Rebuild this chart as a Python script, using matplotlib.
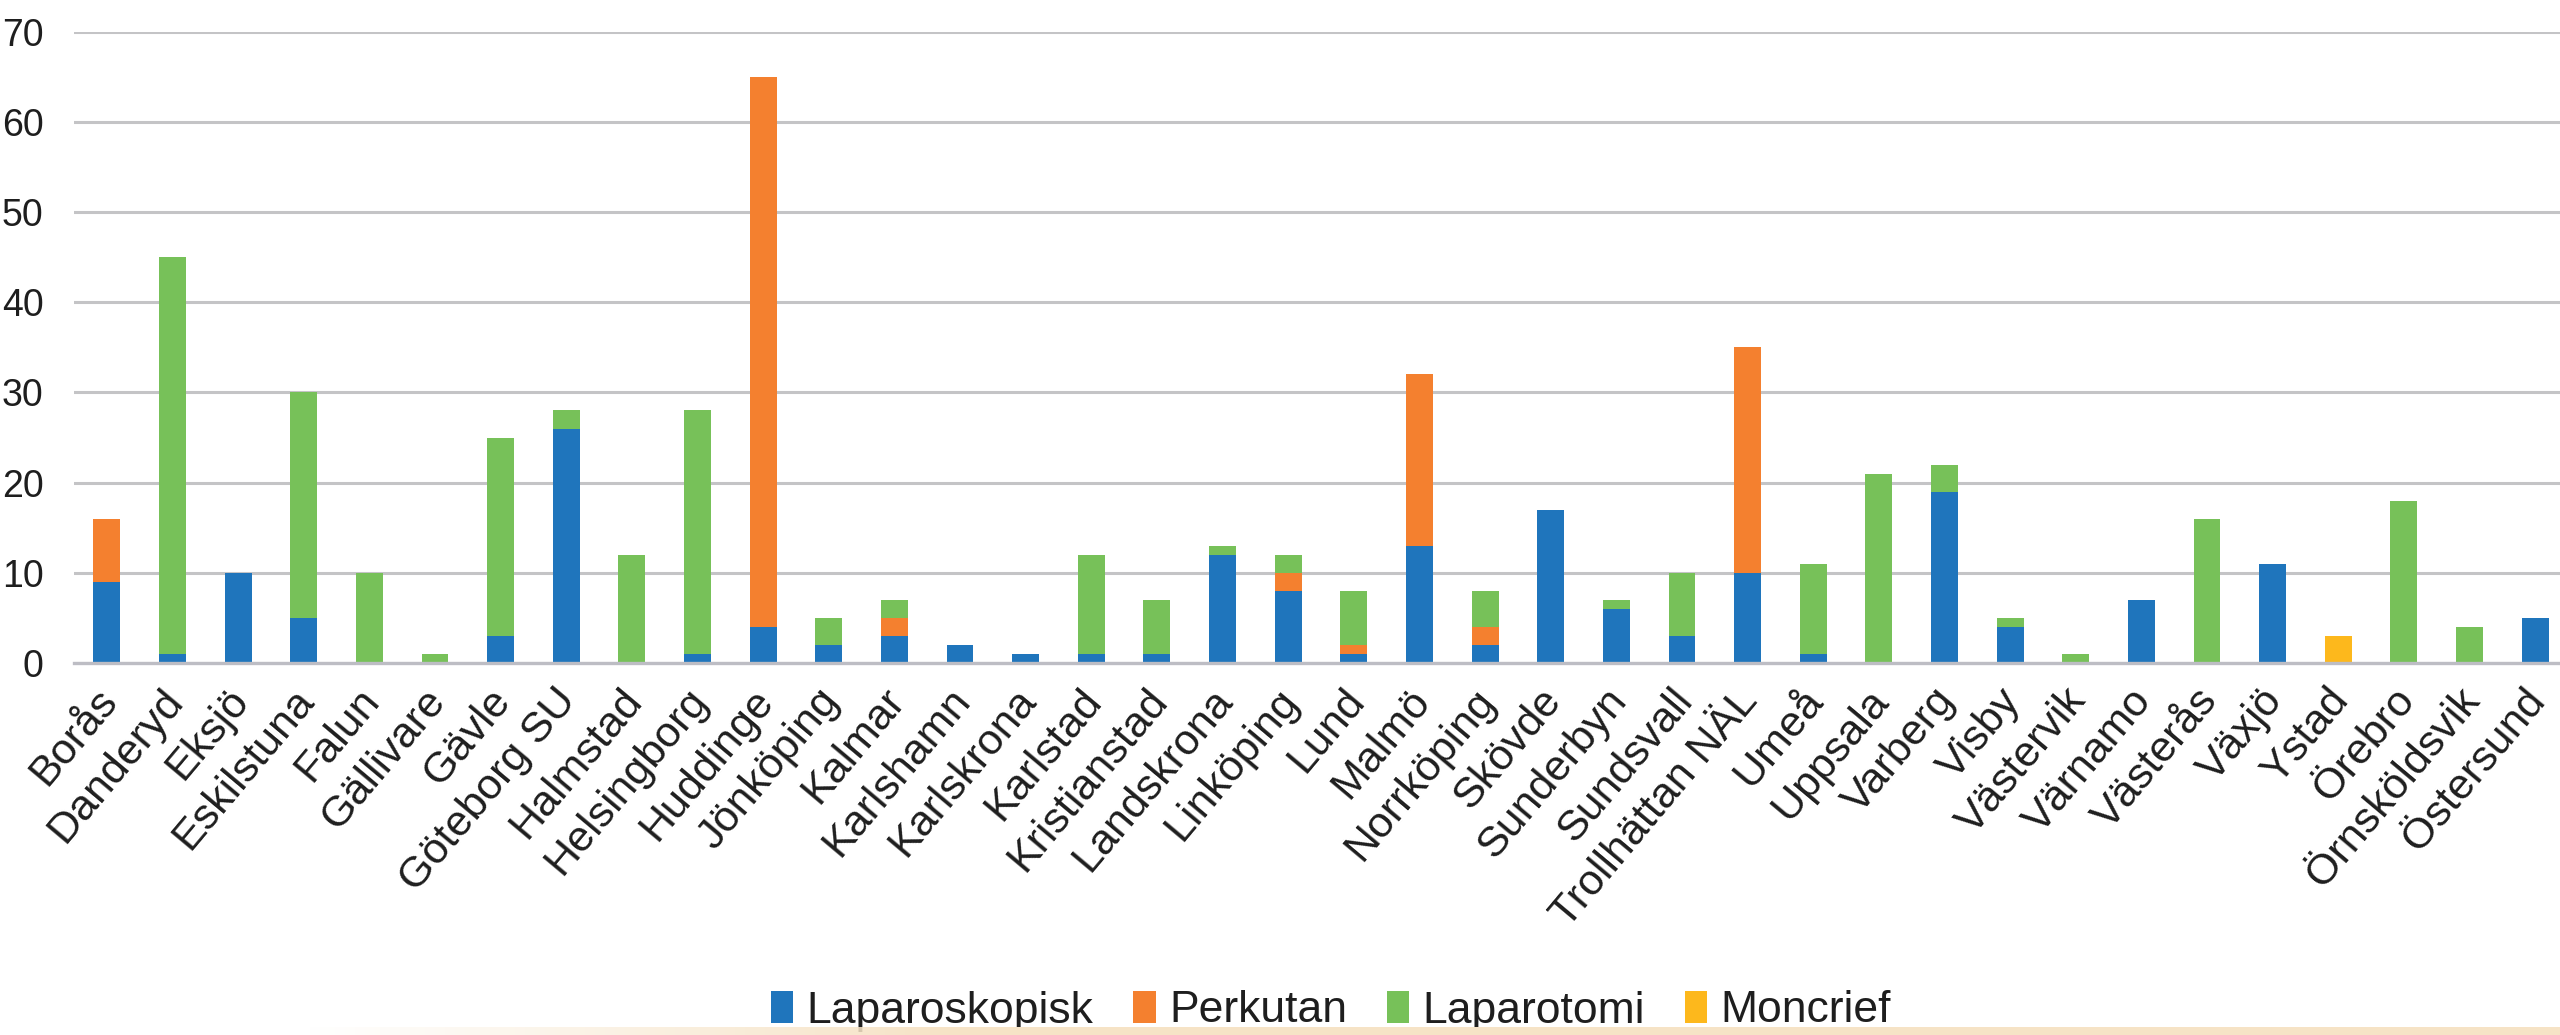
import matplotlib
matplotlib.use('Agg')
import matplotlib.pyplot as plt
import matplotlib.transforms as mtransforms
import numpy as np

categories = ['Borås', 'Danderyd', 'Eksjö', 'Eskilstuna', 'Falun', 'Gällivare', 'Gävle',
              'Göteborg SU', 'Halmstad', 'Helsingborg', 'Huddinge', 'Jönköping', 'Kalmar',
              'Karlshamn', 'Karlskrona', 'Karlstad', 'Kristianstad', 'Landskrona', 'Linköping',
              'Lund', 'Malmö', 'Norrköping', 'Skövde', 'Sunderbyn', 'Sundsvall',
              'Trollhättan NÄL', 'Umeå', 'Uppsala', 'Varberg', 'Visby', 'Västervik',
              'Värnamo', 'Västerås', 'Växjö', 'Ystad', 'Örebro', 'Örnsköldsvik', 'Östersund']

laparoskopisk = [9, 1, 10, 5, 0, 0, 3, 26, 0, 1, 4, 2, 3, 2, 1, 1, 1, 12, 8, 1, 13, 2, 17, 6, 3,
                 10, 1, 0, 19, 4, 0, 7, 0, 11, 0, 0, 0, 5]
perkutan = [7, 0, 0, 0, 0, 0, 0, 0, 0, 0, 61, 0, 2, 0, 0, 0, 0, 0, 2, 1, 19, 2, 0, 0, 0,
            25, 0, 0, 0, 0, 0, 0, 0, 0, 0, 0, 0, 0]
laparotomi = [0, 44, 0, 25, 10, 1, 22, 2, 12, 27, 0, 3, 2, 0, 0, 11, 6, 1, 2, 6, 0, 4, 0, 1, 7,
              0, 10, 21, 3, 1, 1, 0, 16, 0, 0, 18, 4, 0]
moncrief = [0, 0, 0, 0, 0, 0, 0, 0, 0, 0, 0, 0, 0, 0, 0, 0, 0, 0, 0, 0, 0, 0, 0, 0, 0,
            0, 0, 0, 0, 0, 0, 0, 0, 0, 3, 0, 0, 0]

series_names = ['Laparoskopisk', 'Perkutan', 'Laparotomi', 'Moncrief']
series_colors = ['#1F75BC', '#F4802F', '#77C159', '#FDB81C']
y_ticks = [0, 10, 20, 30, 40, 50, 60, 70]

W, H = 2560, 1035
fig = plt.figure(figsize=(W / 100, H / 100), dpi=100)
fig.patch.set_facecolor('white')

ax_left, ax_right = 74, 2568
ax_bottom_px, ax_top_px = 663, 31.7
ax = fig.add_axes([ax_left / W, (H - ax_bottom_px) / H,
                   (ax_right - ax_left) / W, (ax_bottom_px - ax_top_px) / H])

x = np.arange(len(categories))
bottom = np.zeros(len(categories))
for name, vals, col in zip(series_names, [laparoskopisk, perkutan, laparotomi, moncrief],
                           series_colors):
    v = np.array(vals, dtype=float)
    ax.bar(x, v, 0.41, bottom=bottom, color=col, label=name, zorder=3, linewidth=0)
    bottom += v

ax.set_xlim(-0.5, len(categories) - 0.5)
ax.set_ylim(0, 70)
ax.set_yticks(y_ticks)
ax.yaxis.grid(True, color='#C4C4C6', linewidth=2.2)
ax.set_axisbelow(True)
for s in ['top', 'right', 'left']:
    ax.spines[s].set_visible(False)
ax.spines['bottom'].set_color('#BDBDC4')
ax.spines['bottom'].set_linewidth(2.4)
ax.spines['bottom'].set_zorder(4)
ax.tick_params(length=0)
ax.tick_params(axis='y', pad=22, labelsize=27, labelcolor='#1e1e1e')

fam = ['Liberation Sans', 'DejaVu Sans']
for lab in ax.get_yticklabels():
    lab.set_fontfamily(fam)

ax.set_xticks(x)
ax.set_xticklabels(categories, rotation=50, ha='right', va='top',
                   rotation_mode='anchor', fontsize=31, color='#1e1e1e')
ax.tick_params(axis='x', pad=13)
shift = mtransforms.ScaledTranslation(-12 / 100, 0, fig.dpi_scale_trans)
for lab in ax.get_xticklabels():
    lab.set_fontfamily(fam)
    lab.set_transform(lab.get_transform() + shift)

leg = fig.legend(loc='center', bbox_to_anchor=(1331 / W, 24 / H), ncol=4, frameon=False,
                 prop={'family': fam, 'size': 32},
                 handlelength=0.5, handleheight=0.75, handletextpad=0.3,
                 columnspacing=0.9, borderaxespad=0)
for t in leg.get_texts():
    t.set_color('#1e1e1e')

# beige band at the very bottom of the picture
band = fig.add_axes([0, 0, 1, 8 / H], zorder=20)
grad = np.linspace(0, 1, 512)
alpha = np.clip((grad - 0.12) / 0.25, 0, 1)
img = np.zeros((1, 512, 4))
img[..., 0] = 0xF6 / 255
img[..., 1] = 0xE3 / 255
img[..., 2] = 0xC6 / 255
img[..., 3] = alpha
band.imshow(img, aspect='auto', extent=[0, 1, 0, 1])
band.set_axis_off()

fig.savefig('out.png', dpi=100)
